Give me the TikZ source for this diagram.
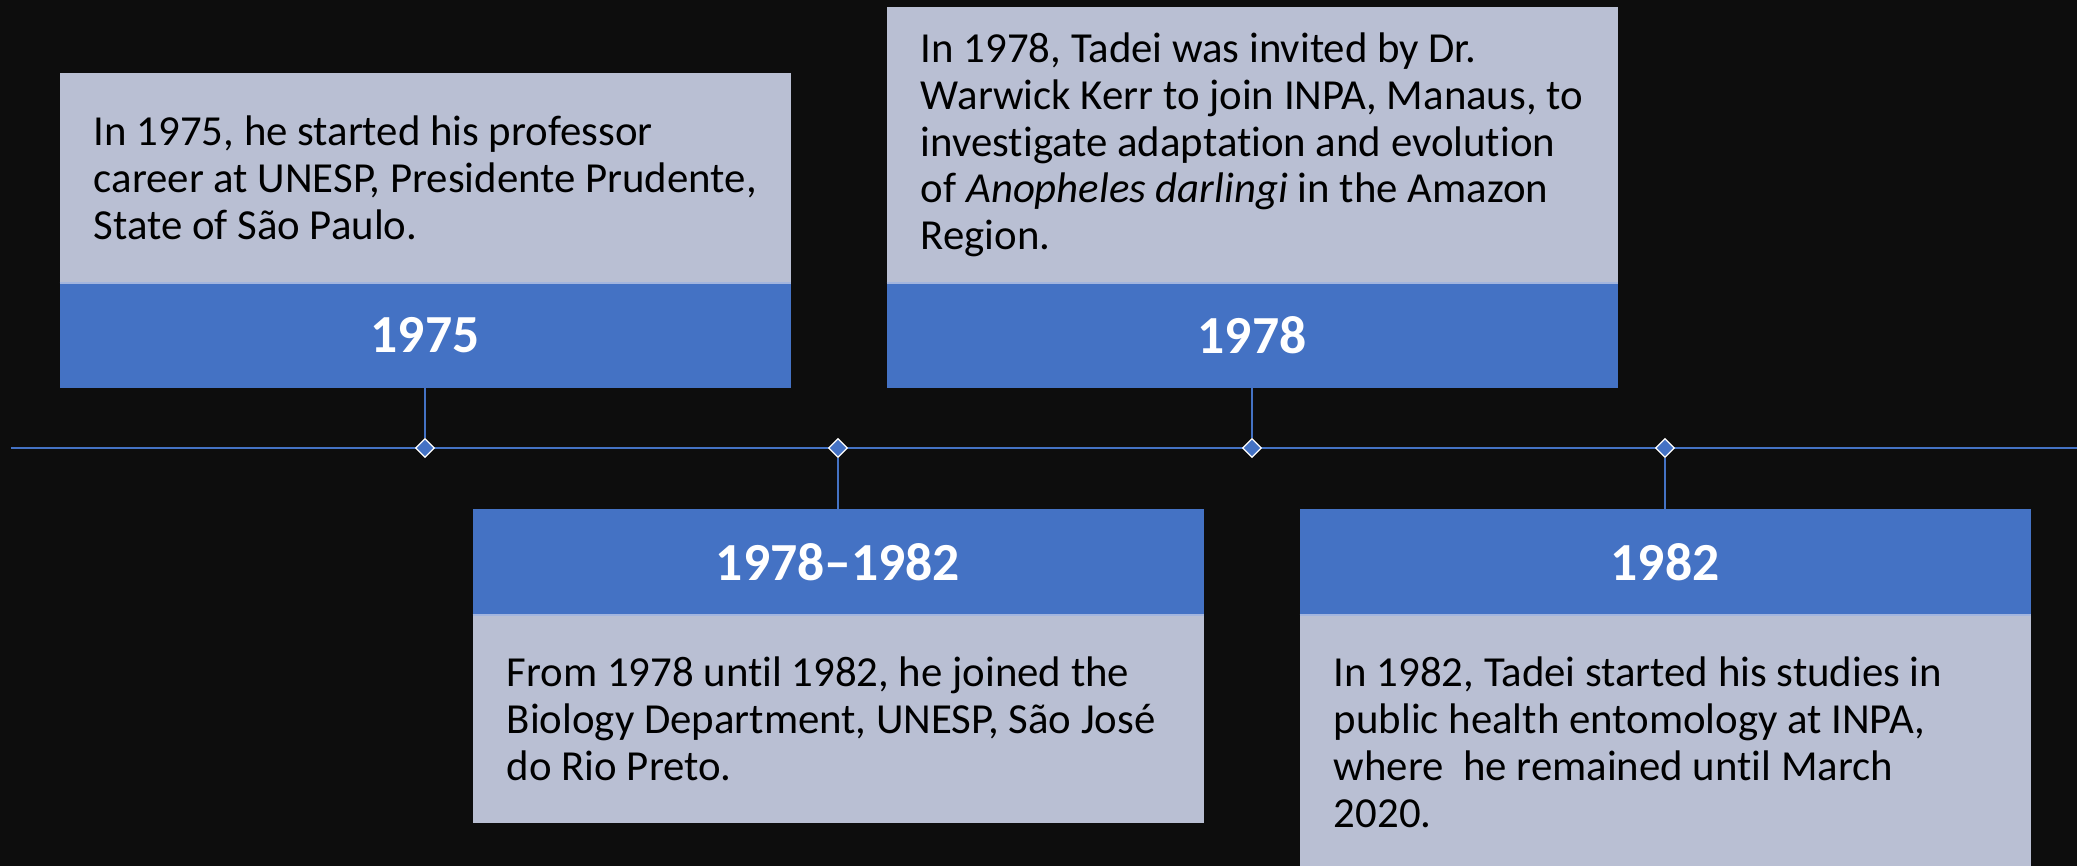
\documentclass[tikz,border=0pt]{standalone}
\usepackage{fontspec}
\setmainfont{Carlito}[Ligatures=NoCommon]
\usetikzlibrary{positioning,shapes.geometric}
\definecolor{pagebg}{HTML}{0D0D0D}
\definecolor{yearblue}{HTML}{4472C4}
\definecolor{notegrey}{HTML}{B9BFD3}
\definecolor{seamblue}{HTML}{A3B5DE}
\tikzset{
  yearbox/.style={rectangle, fill=yearblue, text=white, inner sep=0pt, outer sep=0pt,
    minimum width=365.5pt, minimum height=52.5pt, font=\fontsize{26.8}{30}\selectfont\bfseries},
  notebox/.style={rectangle, fill=notegrey, inner sep=0pt, outer sep=0pt, minimum width=365.5pt},
  notetext/.style={align=left, inner sep=0pt, anchor=west, text=black,
    font=\fontsize{21.4}{23.4}\selectfont},
  seam/.style={seamblue, line width=1pt},
  timeline/.style={yearblue, line width=1.1pt},
  stem/.style={yearblue, line width=0.6pt},
  marker/.style={diamond, fill=yearblue, draw=white, line width=0.6pt, inner sep=0pt,
    minimum width=9.5pt, minimum height=9.5pt}
}
\begin{document}
\begin{tikzpicture}[x=0.5pt, y=-0.5pt]
            \fill[pagebg] (0,0) rectangle (2077,866);
            \useasboundingbox (0,0) rectangle (2077,866);
            % boxes above the line
            \node[yearbox] (y1) at (425,335.5) {1975};
            \node[notebox, minimum height=105pt, above=0pt of y1] (g1) {};
            \node[notetext] (t1) at ([xshift=17pt]g1.west) {In 1975, he started his professor\\career at UNESP, Presidente Prudente,\\State of São Paulo.};
            \node[yearbox] (y2) at (1252,335.5) {1978};
            \node[notebox, minimum height=138pt, above=0pt of y2] (g2) {};
            \node[notetext] (t2) at ([xshift=17pt]g2.west) {In 1978, Tadei was invited by Dr.\\Warwick Kerr to join INPA, Manaus, to\\investigate adaptation and evolution\\of \textit{Anopheles darlingi} in the Amazon\\Region.};
            % boxes below the line
            \node[yearbox, minimum height=53pt] (y3) at (838,562) {1978–1982};
            \node[notebox, minimum height=104pt, below=0pt of y3] (g3) {};
            \node[notetext] (t3) at ([xshift=17pt]g3.west) {From 1978 until 1982, he joined the\\Biology Department, UNESP, São José\\do Rio Preto.};
            \node[yearbox, minimum height=53pt] (y4) at (1665,562) {1982};
            \node[notebox, minimum height=127.5pt, below=0pt of y4] (g4) {};
            \node[notetext] (t4) at ([xshift=17pt]g4.west) {In 1982, Tadei started his studies in\\public health entomology at INPA,\\where\ \ he remained until March\\2020.};
            \draw[seam] (g1.south west)--(g1.south east);
            \draw[seam] (g2.south west)--(g2.south east);
            \draw[seam] (g3.north west)--(g3.north east);
            \draw[seam] (g4.north west)--(g4.north east);
            % timeline
            \coordinate (lstart) at (11,448);
            \coordinate (lend) at (2077,448);
            \draw[timeline] (lstart)--(lend);
            \foreach \n/\x in {d1/425, d2/838, d3/1252, d4/1665}{
                \node[marker] (\n) at (\x,448) {};
            }
            \draw[stem] (y1.south)--(d1.north);
            \draw[stem] (y2.south)--(d3.north);
            \draw[stem] (d2.south)--(y3.north);
            \draw[stem] (d4.south)--(y4.north);
            \end{tikzpicture}
\end{document}
